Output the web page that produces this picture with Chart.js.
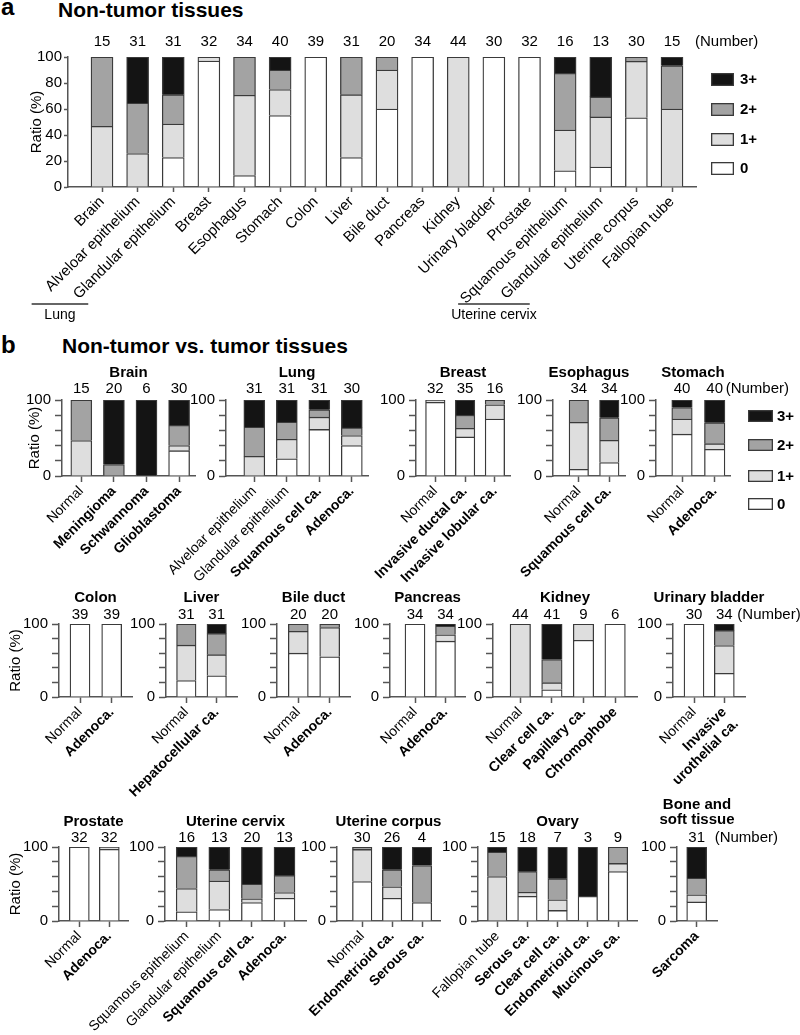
<!DOCTYPE html>
<html><head><meta charset="utf-8">
<script src="https://cdn.jsdelivr.net/npm/chart.js@4.4.1/dist/chart.umd.min.js"></script>
<style>
html,body{margin:0;padding:0;background:#fff;}
#page{position:relative;width:800px;height:1035px;overflow:hidden;font-family:'Liberation Sans',Arial,sans-serif;background:#fff;}
canvas{position:absolute;left:0;}
.h{position:absolute;font-weight:bold;white-space:nowrap;line-height:1;color:#000;}
</style></head><body><div id="page">
<div class="h" style="left:1px;top:-5px;font-size:24px">a</div>
<div class="h" style="left:58px;top:-1px;font-size:21px">Non-tumor tissues</div>
<div class="h" style="left:1px;top:333px;font-size:24px">b</div>
<div class="h" style="left:62px;top:335px;font-size:21px">Non-tumor vs. tumor tissues</div>
</div>
<script>
// ---------- DATA ----------
const scoreLabels = ['0', '1+', '2+', '3+'];

// Panel a: non-tumor tissues
const aLabels = ['Brain','Alveloar epithelium','Glandular epithelium','Breast','Esophagus','Stomach','Colon','Liver','Bile duct','Pancreas','Kidney','Urinary bladder','Prostate','Squamous epithelium','Glandular epithelium','Uterine corpus','Fallopian tube'];
const aCounts = [15,31,31,32,34,40,39,31,20,34,44,30,32,16,13,30,15];
const aScore0 = [0,0,22.6,96.9,8.8,55,100,22.6,60,100,0,100,100,12.5,15.4,53.3,0];
const aScore1 = [46.7,25.8,25.8,3.1,61.8,20,0,48.4,30,0,100,0,0,31.3,38.5,43.4,60];
const aScore2 = [53.3,38.7,22.6,0,29.4,15,0,29,10,0,0,0,0,43.7,15.4,3.3,33.3];
const aScore3 = [0,35.5,29,0,0,10,0,0,0,0,0,0,0,12.5,30.7,0,6.7];

// Panel b
const brainLabels = ['Normal','Meningioma','Schwannoma','Glioblastoma'];
const brainCounts = [15,20,6,30];
const brainScore0 = [0,0,0,33.3];
const brainScore1 = [46.7,0,0,6.7];
const brainScore2 = [53.3,15,0,26.7];
const brainScore3 = [0,85,100,33.3];

const lungLabels = ['Alveloar epithelium','Glandular epithelium','Squamous cell ca.','Adenoca.'];
const lungCounts = [31,31,31,30];
const lungScore0 = [0,22.6,61.3,40];
const lungScore1 = [25.8,25.8,16.1,13.3];
const lungScore2 = [38.7,22.6,9.7,10];
const lungScore3 = [35.5,29,12.9,36.7];

const breastLabels = ['Normal','Invasive ductal ca.','Invasive lobular ca.'];
const breastCounts = [32,35,16];
const breastScore0 = [96.9,51.4,75];
const breastScore1 = [3.1,11.4,18.75];
const breastScore2 = [0,17.2,6.25];
const breastScore3 = [0,20,0];

const esophagusLabels = ['Normal','Squamous cell ca.'];
const esophagusCounts = [34,34];
const esophagusScore0 = [8.8,17.6];
const esophagusScore1 = [61.8,29.4];
const esophagusScore2 = [29.4,29.5];
const esophagusScore3 = [0,23.5];

const stomachLabels = ['Normal','Adenoca.'];
const stomachCounts = [40,40];
const stomachScore0 = [55,35];
const stomachScore1 = [20,7.5];
const stomachScore2 = [15,27.5];
const stomachScore3 = [10,30];

const colonLabels = ['Normal','Adenoca.'];
const colonCounts = [39,39];
const colonScore0 = [100,100];
const colonScore1 = [0,0];
const colonScore2 = [0,0];
const colonScore3 = [0,0];

const liverLabels = ['Normal','Hepatocellular ca.'];
const liverCounts = [31,31];
const liverScore0 = [22.6,29];
const liverScore1 = [48.4,29];
const liverScore2 = [29,29.1];
const liverScore3 = [0,12.9];

const bileLabels = ['Normal','Adenoca.'];
const bileCounts = [20,20];
const bileScore0 = [60,55];
const bileScore1 = [30,40];
const bileScore2 = [10,5];
const bileScore3 = [0,0];

const pancreasLabels = ['Normal','Adenoca.'];
const pancreasCounts = [34,34];
const pancreasScore0 = [100,76.5];
const pancreasScore1 = [0,8.8];
const pancreasScore2 = [0,11.8];
const pancreasScore3 = [0,2.9];

const kidneyLabels = ['Normal','Clear cell ca.','Papillary ca.','Chromophobe'];
const kidneyCounts = [44,41,9,6];
const kidneyScore0 = [0,9.8,77.8,100];
const kidneyScore1 = [100,9.8,22.2,0];
const kidneyScore2 = [0,31.7,0,0];
const kidneyScore3 = [0,48.7,0,0];

const bladderLabels = ['Normal',['Invasive','urothelial ca.']];
const bladderCounts = [30,34];
const bladderScore0 = [100,32.4];
const bladderScore1 = [0,38.2];
const bladderScore2 = [0,20.6];
const bladderScore3 = [0,8.8];

const prostateLabels = ['Normal','Adenoca.'];
const prostateCounts = [32,32];
const prostateScore0 = [100,96.9];
const prostateScore1 = [0,3.1];
const prostateScore2 = [0,0];
const prostateScore3 = [0,0];

const cervixLabels = ['Squamous epithelium','Glandular epithelium','Squamous cell ca.','Adenoca.'];
const cervixCounts = [16,13,20,13];
const cervixScore0 = [12.5,15.4,25,30.8];
const cervixScore1 = [31.3,38.5,5,7.7];
const cervixScore2 = [43.7,15.4,20,23.1];
const cervixScore3 = [12.5,30.7,50,38.4];

const corpusLabels = ['Normal','Endometrioid ca.','Serous ca.'];
const corpusCounts = [30,26,4];
const corpusScore0 = [53.3,30.8,25];
const corpusScore1 = [43.4,15.4,0];
const corpusScore2 = [3.3,23.1,50];
const corpusScore3 = [0,30.7,25];

const ovaryLabels = ['Fallopian tube','Serous ca.','Clear cell ca.','Endometrioid ca.','Mucinous ca.'];
const ovaryCounts = [15,18,7,3,9];
const ovaryScore0 = [0,33.3,14.3,33.3,66.7];
const ovaryScore1 = [60,5.6,14.3,0,11.1];
const ovaryScore2 = [33.3,27.8,28.6,0,22.2];
const ovaryScore3 = [6.7,33.3,42.8,66.7,0];

const boneLabels = ['Sarcoma'];
const boneCounts = [31];
const boneScore0 = [25.8];
const boneScore1 = [9.7];
const boneScore2 = [22.6];
const boneScore3 = [41.9];

// ---------- STYLE ----------
const FONT = "'Liberation Sans', Arial, Helvetica, sans-serif";
const FILLS = ['#ffffff', '#dedede', '#a3a3a3', '#141414'];
const EDGE = '#3a3a3a';
const AXC = '#555555';
const AXW = 1.5;
const page = document.getElementById('page');

function txt(ctx, s, x, y, font, align, base) {
  ctx.save();
  ctx.font = font; ctx.fillStyle = '#000';
  ctx.textAlign = align || 'center'; ctx.textBaseline = base || 'middle';
  ctx.fillText(s, x, y);
  ctx.restore();
}

function build(spec) {
  const canvas = document.createElement('canvas');
  canvas.width = 800; canvas.height = spec.canvasH;
  canvas.style.top = spec.canvasTop + 'px';
  canvas.style.width = '800px'; canvas.style.height = spec.canvasH + 'px';
  page.appendChild(canvas);
  const n = spec.labels.length;
  const xmin = -(spec.C0 - spec.L) / spec.step;
  const xmax = (n - 1) + (spec.R - spec.C0 - (n - 1) * spec.step) / spec.step;
  const yW = spec.yW || 45;
  const datasets = spec.series.map((s, k) => ({
    label: scoreLabels[k],
    data: s.map((v, i) => ({ x: i, y: v })),
    backgroundColor: FILLS[k],
    borderColor: EDGE,
    borderWidth: 1.3,
    barThickness: spec.barW
  }));
  const deco = {
    id: 'deco',
    afterDraw(chart) {
      const ctx = chart.ctx;
      const xs = chart.scales.x;
      const ca = chart.chartArea;
      const off = spec.canvasTop;
      spec.counts.forEach((c, i) => {
        txt(ctx, String(c), xs.getPixelForValue(i), ca.top + spec.numDy, '15px ' + FONT);
      });
      if (spec.numberDx) {
        txt(ctx, '(Number)', xs.getPixelForValue(n - 1) + spec.numberDx, ca.top + spec.numDy, '15px ' + FONT, 'left');
      }
      if (spec.title) {
        const cx = (ca.left + ca.right) / 2;
        spec.title.forEach((line, j) => {
          txt(ctx, line, cx, ca.top + spec.titleDy[j], 'bold 15px ' + FONT);
        });
      }
      if (spec.ratioX) {
        ctx.save();
        ctx.translate(spec.ratioX, (ca.top + ca.bottom) / 2);
        ctx.rotate(-Math.PI / 2);
        txt(ctx, 'Ratio (%)', 0, 0, '15px ' + FONT);
        ctx.restore();
      }
      if (spec.legend) {
        const lg = spec.legend;
        [3, 2, 1, 0].forEach((k, j) => {
          const y = lg.ys[j] - off;
          ctx.save();
          ctx.fillStyle = FILLS[k]; ctx.strokeStyle = EDGE; ctx.lineWidth = 1.3;
          ctx.fillRect(lg.x, y, lg.w, lg.h);
          ctx.strokeRect(lg.x + 0.65, y + 0.65, lg.w - 1.3, lg.h - 1.3);
          ctx.restore();
          txt(ctx, scoreLabels[k], lg.tx, y + lg.h / 2 + 0.5, 'bold 15px ' + FONT, 'left');
        });
      }
      if (spec.brackets) {
        spec.brackets.forEach(b => {
          const x1 = xs.getPixelForValue(b.from) + b.d1;
          const x2 = xs.getPixelForValue(b.to) + b.d2;
          ctx.save();
          ctx.strokeStyle = '#333'; ctx.lineWidth = 1.3;
          ctx.beginPath(); ctx.moveTo(x1, b.y - off); ctx.lineTo(x2, b.y - off); ctx.stroke();
          ctx.restore();
          txt(ctx, b.text, (x1 + x2) / 2, b.ty - off, '14px ' + FONT);
        });
      }
    }
  };
  return new Chart(canvas, {
    type: 'bar',
    data: { datasets },
    plugins: [deco],
    options: {
      responsive: false, animation: false, devicePixelRatio: 1,
      layout: { padding: { left: spec.L - yW, right: 800 - spec.R, top: spec.T - spec.canvasTop, bottom: 0 } },
      plugins: { legend: { display: false }, tooltip: { enabled: false }, title: { display: false } },
      scales: {
        x: {
          type: 'linear', min: xmin, max: xmax, offset: false, stacked: true, bounds: 'data',
          afterBuildTicks: ax => { ax.ticks = spec.labels.map((_, i) => ({ value: i })); },
          afterFit: ax => { ax.height = spec.canvasH - (spec.B - spec.canvasTop); },
          grid: { display: true, drawOnChartArea: false, drawTicks: true, tickLength: spec.xTick, tickWidth: AXW, tickColor: AXC, offset: false },
          border: { display: true, color: AXC, width: AXW },
          ticks: {
            autoSkip: false, minRotation: 45, maxRotation: 45, padding: 1, color: '#000',
            font: c => ({ family: FONT, size: spec.xFont, weight: (spec.bold && spec.bold[c.index]) ? 'bold' : 'normal' }),
            callback: v => spec.labels[Math.round(v)]
          }
        },
        y: {
          min: 0, max: 100, stacked: true, bounds: 'data',
          afterFit: ax => { ax.width = yW; },
          grid: { display: true, drawOnChartArea: false, drawTicks: true, tickLength: spec.yTick, tickWidth: AXW, tickColor: AXC },
          border: { display: true, color: AXC, width: AXW },
          ticks: {
            autoSkip: false, stepSize: 20, color: '#000', padding: spec.yPad, font: { family: FONT, size: 15 },
            callback: v => (spec.yAll || v === 0 || v === 100) ? String(v) : ''
          }
        }
      }
    }
  });
}

// ---------- LAYOUT ----------
const row1 = { canvasTop: 340, canvasH: 270, T: 400, B: 476, numDy: -11, titleDy: [-27], xTick: 6, yTick: 7, yPad: 4, xFont: 14 };
const row2 = { canvasTop: 565, canvasH: 270, T: 624, B: 697, numDy: -9, titleDy: [-26], xTick: 6, yTick: 7, yPad: 4, xFont: 14 };
const row3 = { canvasTop: 785, canvasH: 250, T: 847, B: 921, numDy: -9, titleDy: [-25], xTick: 6, yTick: 7, yPad: 4, xFont: 14 };

build({
  canvasTop: 0, canvasH: 330, L: 68, R: 696, T: 57, B: 187, C0: 102, step: 35.625, barW: 22, yW: 50,
  labels: aLabels, counts: aCounts, series: [aScore0, aScore1, aScore2, aScore3],
  numDy: -15, numberDx: 23, yAll: true, xTick: 5, yTick: 4, yPad: 2, xFont: 15, ratioX: 37,
  legend: { x: 711, ys: [73, 103, 133, 162], w: 23, h: 13, tx: 740 },
  brackets: [
    { from: 1, to: 2, d1: -106, d2: -85, y: 304, ty: 315, text: 'Lung' },
    { from: 13, to: 14, d1: -107, d2: -71, y: 304, ty: 315, text: 'Uterine cervix' }
  ]
});

build(Object.assign({}, row1, { L: 62, R: 195, C0: 81.3, step: 32.6, barW: 21, ratioX: 35,
  title: ['Brain'], labels: brainLabels, counts: brainCounts, bold: [0,1,1,1],
  series: [brainScore0, brainScore1, brainScore2, brainScore3] }));
build(Object.assign({}, row1, { L: 226, R: 368, C0: 254.3, step: 32.5, barW: 21,
  title: ['Lung'], labels: lungLabels, counts: lungCounts, bold: [0,0,1,1],
  series: [lungScore0, lungScore1, lungScore2, lungScore3] }));
build(Object.assign({}, row1, { L: 416, R: 510, C0: 435.3, step: 29.8, barW: 19.5,
  title: ['Breast'], labels: breastLabels, counts: breastCounts, bold: [0,1,1],
  series: [breastScore0, breastScore1, breastScore2, breastScore3] }));
build(Object.assign({}, row1, { L: 553, R: 625, C0: 578.8, step: 30.5, barW: 19.5,
  title: ['Esophagus'], labels: esophagusLabels, counts: esophagusCounts, bold: [0,1],
  series: [esophagusScore0, esophagusScore1, esophagusScore2, esophagusScore3] }));
build(Object.assign({}, row1, { L: 656, R: 730, C0: 682, step: 32.7, barW: 20.5, numberDx: 11,
  title: ['Stomach'], labels: stomachLabels, counts: stomachCounts, bold: [0,1],
  legend: { x: 748, ys: [410, 439, 470, 498], w: 25, h: 12, tx: 777 },
  series: [stomachScore0, stomachScore1, stomachScore2, stomachScore3] }));

build(Object.assign({}, row2, { L: 59, R: 132, C0: 80, step: 31.7, barW: 20, ratioX: 16,
  title: ['Colon'], labels: colonLabels, counts: colonCounts, bold: [0,1],
  series: [colonScore0, colonScore1, colonScore2, colonScore3] }));
build(Object.assign({}, row2, { L: 166, R: 237, C0: 186.3, step: 30.4, barW: 19.5,
  title: ['Liver'], labels: liverLabels, counts: liverCounts, bold: [0,1],
  series: [liverScore0, liverScore1, liverScore2, liverScore3] }));
build(Object.assign({}, row2, { L: 277, R: 350, C0: 298.3, step: 31.4, barW: 20,
  title: ['Bile duct'], labels: bileLabels, counts: bileCounts, bold: [0,1],
  series: [bileScore0, bileScore1, bileScore2, bileScore3] }));
build(Object.assign({}, row2, { L: 390, R: 465, C0: 415, step: 30.5, barW: 20,
  title: ['Pancreas'], labels: pancreasLabels, counts: pancreasCounts, bold: [0,1],
  series: [pancreasScore0, pancreasScore1, pancreasScore2, pancreasScore3] }));
build(Object.assign({}, row2, { L: 493, R: 637, C0: 520.3, step: 31.6, barW: 20.5,
  title: ['Kidney'], labels: kidneyLabels, counts: kidneyCounts, bold: [0,1,1,1],
  series: [kidneyScore0, kidneyScore1, kidneyScore2, kidneyScore3] }));
build(Object.assign({}, row2, { L: 673, R: 745, C0: 694, step: 30.3, barW: 20, numberDx: 13,
  title: ['Urinary bladder'], labels: bladderLabels, counts: bladderCounts, bold: [0,1],
  series: [bladderScore0, bladderScore1, bladderScore2, bladderScore3] }));

build(Object.assign({}, row3, { L: 59, R: 128, C0: 79.3, step: 30, barW: 20, ratioX: 16,
  title: ['Prostate'], labels: prostateLabels, counts: prostateCounts, bold: [0,1],
  series: [prostateScore0, prostateScore1, prostateScore2, prostateScore3] }));
build(Object.assign({}, row3, { L: 165, R: 306, C0: 186.7, step: 32.6, barW: 21,
  title: ['Uterine cervix'], labels: cervixLabels, counts: cervixCounts, bold: [0,0,1,1],
  series: [cervixScore0, cervixScore1, cervixScore2, cervixScore3] }));
build(Object.assign({}, row3, { L: 337, R: 440, C0: 362.2, step: 29.9, barW: 19.5,
  title: ['Uterine corpus'], labels: corpusLabels, counts: corpusCounts, bold: [0,1,1],
  series: [corpusScore0, corpusScore1, corpusScore2, corpusScore3] }));
build(Object.assign({}, row3, { L: 478, R: 637, C0: 497.2, step: 30.2, barW: 19.5,
  title: ['Ovary'], labels: ovaryLabels, counts: ovaryCounts, bold: [0,1,1,1,1],
  series: [ovaryScore0, ovaryScore1, ovaryScore2, ovaryScore3] }));
build(Object.assign({}, row3, { L: 677, R: 717, C0: 696.7, step: 30, barW: 20, numberDx: 18,
  title: ['Bone and', 'soft tissue'], titleDy: [-42, -27], labels: boneLabels, counts: boneCounts, bold: [1],
  series: [boneScore0, boneScore1, boneScore2, boneScore3] }));
</script>
</body></html>
